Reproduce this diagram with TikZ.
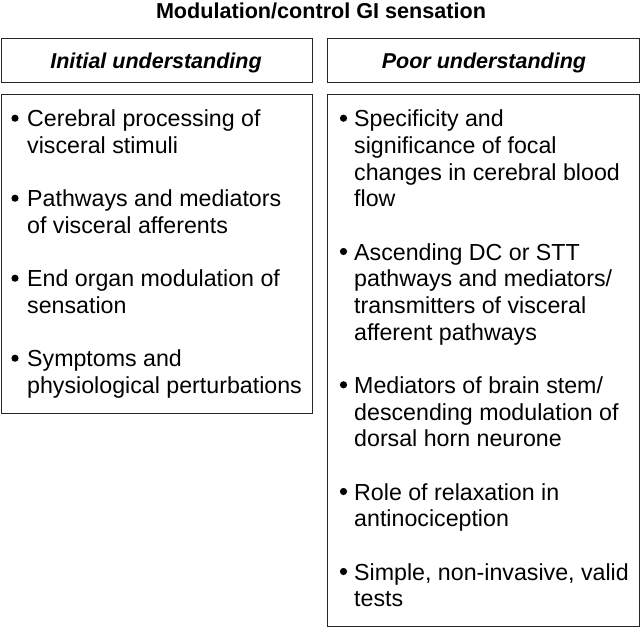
\documentclass[tikz,border=0pt]{standalone}
\usepackage{fontspec}
\setmainfont{Liberation Sans}
\begin{document}
\begin{tikzpicture}[x=1pt,y=-1pt,
  box/.style={draw=black!85, line width=1.1pt, inner sep=0pt, anchor=north west},
  ln/.style={anchor=base west, inner sep=0pt, font=\fontsize{23.2}{27}\selectfont},
  dotb/.style={circle, fill=black, draw=none, inner sep=0pt, minimum size=7.2pt},
  head/.style={anchor=base, inner sep=0pt, font=\fontsize{21.5}{26}\selectfont\bfseries\itshape}]
\useasboundingbox (0,0) rectangle (640,627);

\node[anchor=base, inner sep=0pt, font=\fontsize{21.6}{26}\selectfont\bfseries] (title) at (321,18) {Modulation/control GI sensation};

% header boxes
\node[box, minimum width=311.5pt, minimum height=44pt] (lh) at (0.6,38) {};
\node[box, minimum width=311.9pt, minimum height=44pt] (rh) at (327,38) {};
\node[head] (lht) at (156,68) {Initial understanding};
\node[head] (rht) at (484,68) {Poor understanding};

% body boxes
\node[box, minimum width=311.5pt, minimum height=319pt] (lb) at (0.6,94) {};
\node[box, minimum width=311.9pt, minimum height=532pt] (rb) at (327,94) {};

% left items
\node[dotb] (lb1) at (15,118.2) {};
\node[ln] (l11) at (27,126.7) {Cerebral processing of};
\node[ln] (l12) at (27,153.3) {visceral stimuli};
\node[dotb] (lb2) at (15,198.2) {};
\node[ln] (l21) at (27,206.7) {Pathways and mediators};
\node[ln] (l22) at (27,233.3) {of visceral afferents};
\node[dotb] (lb3) at (15,278.2) {};
\node[ln] (l31) at (27,286.7) {End organ modulation of};
\node[ln] (l32) at (27,313.3) {sensation};
\node[dotb] (lb4) at (15,358.2) {};
\node[ln] (l41) at (27,366.7) {Symptoms and};
\node[ln] (l42) at (27,393.3) {physiological perturbations};

% right items
\node[dotb] (rb1) at (343.5,118.2) {};
\node[ln] (r11) at (354,126.7) {Specificity and};
\node[ln] (r12) at (354,153.3) {significance of focal};
\node[ln] (r13) at (354,180) {changes in cerebral blood};
\node[ln] (r14) at (354,206.7) {flow};
\node[dotb] (rb2) at (343.5,251.5) {};
\node[ln] (r21) at (354,260) {Ascending DC or STT};
\node[ln] (r22) at (354,286.7) {pathways and mediators/};
\node[ln] (r23) at (354,313.3) {transmitters of visceral};
\node[ln] (r24) at (354,340) {afferent pathways};
\node[dotb] (rb3) at (343.5,384.8) {};
\node[ln] (r31) at (354,393.3) {Mediators of brain stem/};
\node[ln] (r32) at (354,420) {descending modulation of};
\node[ln] (r33) at (354,446.7) {dorsal horn neurone};
\node[dotb] (rb4) at (343.5,491.5) {};
\node[ln] (r41) at (354,500) {Role of relaxation in};
\node[ln] (r42) at (354,526.7) {antinociception};
\node[dotb] (rb5) at (343.5,571.5) {};
\node[ln] (r51) at (354,580) {Simple, non-invasive, valid};
\node[ln] (r52) at (354,606.7) {tests};
\end{tikzpicture}
\end{document}
